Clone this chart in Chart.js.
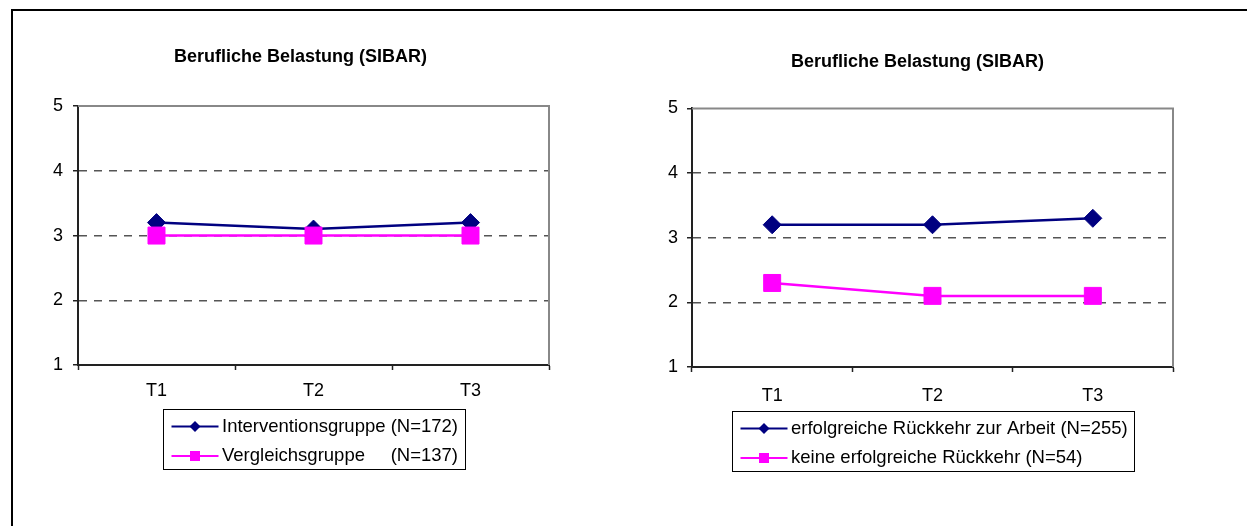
<!DOCTYPE html>
<html>
<head>
<meta charset="utf-8">
<script src="https://cdn.jsdelivr.net/npm/chart.js@4.4.0/dist/chart.umd.min.js"></script>
<style>
    html, body { margin: 0; padding: 0; background: #fff; overflow: hidden; }
    body { width: 1247px; height: 526px; position: relative; }
    #frame {
        position: absolute; left: 11px; top: 9px; width: 1300px; height: 600px;
        border-top: 2px solid #000; border-left: 2px solid #000;
    }
    canvas { position: absolute; }
    #leftChart { left: 44px; top: 12px; }
    #rightChart { left: 654px; top: 12px; }
</style>
</head>
<body>
<div id="frame"></div>
<canvas id="leftChart" width="518" height="514"></canvas>
<canvas id="rightChart" width="532" height="514"></canvas>
<script>
// ---------------- DATA ----------------
const timepoints = ["T1", "T2", "T3"];
const yTicks = [1, 2, 3, 4, 5];
const chartTitle = "Berufliche Belastung (SIBAR)";

const interventionValues = [3.2, 3.1, 3.2];
const comparisonValues = [3.0, 3.0, 3.0];
const leftNames = ["Interventionsgruppe (N=172)", "Vergleichsgruppe     (N=137)"];

const returnValues = [3.2, 3.2, 3.3];
const noReturnValues = [2.3, 2.1, 2.1];
const rightNames = ["erfolgreiche Rückkehr zur Arbeit (N=255)", "keine erfolgreiche Rückkehr (N=54)"];

// ---------------- STYLE ----------------
const FONT = "'Liberation Sans', Arial, sans-serif";
const NAVY = "#000080";
const PINK = "#FF00FF";

// gray top / right frame of the plot area
const plotFrame = {
    id: "plotFrame",
    beforeDatasetsDraw(chart) {
        const { ctx, chartArea: a } = chart;
        ctx.save();
        ctx.strokeStyle = "#888";
        ctx.lineWidth = 2;
        ctx.beginPath();
        ctx.moveTo(a.left, a.top);
        ctx.lineTo(a.right, a.top);
        ctx.lineTo(a.right, a.bottom);
        ctx.stroke();
        ctx.restore();
    }
};

// boxed legend with line + marker samples, stacked under the plot
const boxLegend = {
    id: "boxLegend",
    afterDraw(chart, args, opts) {
        const { ctx, chartArea: a } = chart;
        const sets = chart.data.datasets;
        ctx.save();
        ctx.font = "18.5px " + FONT;
        const textW = Math.max(...sets.map(d => ctx.measureText(d.label).width));
        const w = Math.round(58.5 + textW + 7);
        const x0 = Math.round((a.left + a.right) / 2 - w / 2) + 0.5;
        const y0 = Math.round(a.bottom + opts.gap) + 0.5;
        ctx.strokeStyle = "#000";
        ctx.lineWidth = 1;
        ctx.strokeRect(x0, y0, w, 60);
        sets.forEach((ds, i) => {
            const cy = y0 + 17 + i * 29.5;
            ctx.strokeStyle = ds.borderColor;
            ctx.lineWidth = 2;
            ctx.beginPath();
            ctx.moveTo(x0 + 8, cy);
            ctx.lineTo(x0 + 55, cy);
            ctx.stroke();
            const mx = x0 + 31.5;
            ctx.fillStyle = ds.borderColor;
            ctx.beginPath();
            if (ds.pointStyle === "rectRot") {
                ctx.moveTo(mx - 5.5, cy);
                ctx.lineTo(mx, cy - 5.5);
                ctx.lineTo(mx + 5.5, cy);
                ctx.lineTo(mx, cy + 5.5);
                ctx.closePath();
            } else {
                ctx.rect(mx - 5, cy - 5, 10, 10);
            }
            ctx.fill();
            ctx.fillStyle = "#000";
            ctx.textAlign = "left";
            ctx.textBaseline = "middle";
            ctx.fillText(ds.label, x0 + 58.5, cy);
        });
        ctx.restore();
    }
};

function makeChart(id, seriesA, seriesB, names, lay) {
    return new Chart(document.getElementById(id), {
        type: "line",
        data: {
            labels: timepoints,
            datasets: [{
                label: names[0],
                data: seriesA,
                borderColor: NAVY,
                backgroundColor: NAVY,
                borderWidth: 2.5,
                pointStyle: "rectRot",
                pointRadius: 9,
                pointBorderWidth: 1,
                tension: 0,
                order: 2
            }, {
                label: names[1],
                data: seriesB,
                borderColor: PINK,
                backgroundColor: PINK,
                borderWidth: 2.5,
                pointStyle: "rect",
                pointRadius: 12,
                pointBorderWidth: 1,
                tension: 0,
                order: 1
            }]
        },
        options: {
            responsive: false,
            animation: false,
            layout: { padding: { top: 0, left: 0, right: 5, bottom: lay.bottom } },
            plugins: {
                legend: { display: false },
                tooltip: { enabled: false },
                title: {
                    display: true,
                    text: chartTitle,
                    color: "#000",
                    font: { family: FONT, size: 18, weight: "bold" },
                    padding: { top: lay.titleTop, bottom: lay.titleBottom }
                },
                boxLegend: { gap: 44 }
            },
            scales: {
                x: {
                    offset: true,
                    grid: {
                        offset: true,
                        drawOnChartArea: false,
                        drawTicks: true,
                        tickLength: 5,
                        tickColor: "#222",
                        tickWidth: 1.5
                    },
                    border: { color: "#222", width: 2 },
                    ticks: {
                        color: "#000",
                        padding: lay.xPad,
                        font: { family: FONT, size: 18 }
                    },
                    afterFit(scale) { scale.height = 40; }
                },
                y: {
                    min: yTicks[0],
                    max: yTicks[yTicks.length - 1],
                    afterBuildTicks(scale) { scale.ticks = yTicks.map(v => ({ value: v })); },
                    grid: {
                        color: c => (c.tick && (c.tick.value === yTicks[0] || c.tick.value === yTicks[yTicks.length - 1])) ? "rgba(0,0,0,0)" : "#555",
                        lineWidth: 1.5,
                        drawTicks: true,
                        tickLength: 5,
                        tickColor: "#222",
                        tickWidth: 1.5,
                        tickBorderDash: []
                    },
                    border: { color: "#222", width: 2, dash: [8, 7] },
                    ticks: {
                        color: "#000",
                        padding: lay.yPad,
                        font: { family: FONT, size: 18 }
                    },
                    afterFit(scale) { scale.width = lay.yWidth; }
                }
            }
        },
        plugins: [plotFrame, boxLegend]
    });
}

// ---------------- LEFT CHART ----------------
makeChart("leftChart", interventionValues, comparisonValues, leftNames,
    { bottom: 121, titleTop: 34, titleBottom: 38.5, xPad: 10, yPad: 10, yWidth: 34 });

// ---------------- RIGHT CHART ----------------
makeChart("rightChart", returnValues, noReturnValues, rightNames,
    { bottom: 119, titleTop: 39, titleBottom: 35.8, xPad: 13, yPad: 9, yWidth: 38 });
</script>
</body>
</html>
